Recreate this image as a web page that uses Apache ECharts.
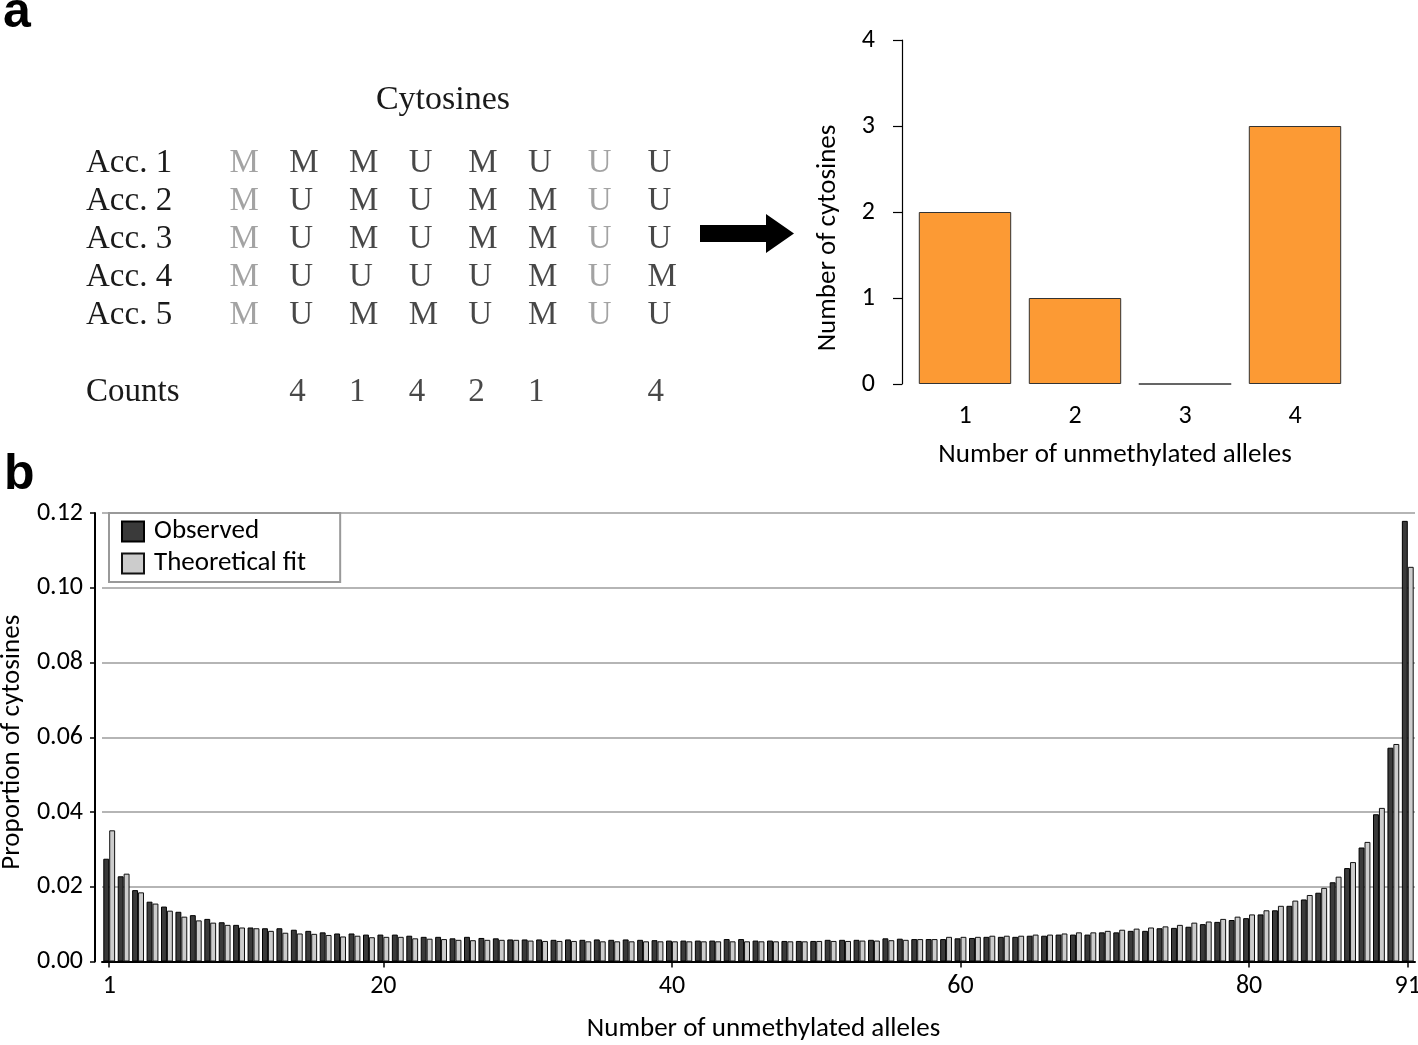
<!DOCTYPE html>
<html>
<head>
<meta charset="utf-8">
<script src="https://cdn.jsdelivr.net/npm/echarts@6/dist/echarts.min.js"></script>
<style>
html,body{margin:0;padding:0;background:#fff;}
#chart{width:1418px;height:1045px;}
</style>
</head>
<body>
<div id="chart"></div>
<script>
// ---------- Panel a: allele table ----------
const accessions = ['Acc. 1', 'Acc. 2', 'Acc. 3', 'Acc. 4', 'Acc. 5'];
const alleleRows = [
  ['M', 'M', 'M', 'U', 'M', 'U', 'U', 'U'],
  ['M', 'U', 'M', 'U', 'M', 'M', 'U', 'U'],
  ['M', 'U', 'M', 'U', 'M', 'M', 'U', 'U'],
  ['M', 'U', 'U', 'U', 'U', 'M', 'U', 'M'],
  ['M', 'U', 'M', 'M', 'U', 'M', 'U', 'U']
];
const countsRow = ['', '4', '1', '4', '2', '1', '', '4'];
const monomorphicCols = [0, 6];

// ---------- Panel a: histogram ----------
const histCategories = ['1', '2', '3', '4'];
const histValues = [2, 1, 0, 3];

// ---------- Panel b ----------
const alleleCategories = [];
for (let i = 1; i <= 91; i++) alleleCategories.push(String(i));
const tickLabels = ['1', '20', '40', '60', '80', '91'];
const observed = [
  0.0275, 0.0228, 0.0191, 0.0160, 0.0147, 0.0133, 0.0124, 0.0114, 0.0105, 0.0098,
  0.0091, 0.0089, 0.0089, 0.0085, 0.0082, 0.0078, 0.0075, 0.0075, 0.0072, 0.0072,
  0.0072, 0.0069, 0.0066, 0.0066, 0.0062, 0.0066, 0.0063, 0.0062, 0.0059, 0.0059,
  0.0059, 0.0058, 0.0059, 0.0058, 0.0059, 0.0058, 0.0059, 0.0058, 0.0057, 0.0056,
  0.0056, 0.0056, 0.0056, 0.0060, 0.0060, 0.0056, 0.0056, 0.0055, 0.0055, 0.0055,
  0.0058, 0.0058, 0.0058, 0.0058, 0.0062, 0.0061, 0.0060, 0.0060, 0.0060, 0.0062,
  0.0063, 0.0066, 0.0066, 0.0066, 0.0069, 0.0069, 0.0072, 0.0072, 0.0072, 0.0078,
  0.0078, 0.0082, 0.0082, 0.0089, 0.0090, 0.0093, 0.0100, 0.0106, 0.0111, 0.0116,
  0.0126, 0.0137, 0.0149, 0.0166, 0.0184, 0.0212, 0.0250, 0.0305, 0.0394, 0.0572,
  0.1179
];
const theoretical = [
  0.0351, 0.0235, 0.0185, 0.0155, 0.0136, 0.0120, 0.0110, 0.0104, 0.0098, 0.0091,
  0.0089, 0.0082, 0.0077, 0.0075, 0.0074, 0.0071, 0.0067, 0.0069, 0.0065, 0.0066,
  0.0066, 0.0062, 0.0061, 0.0060, 0.0058, 0.0057, 0.0058, 0.0058, 0.0058, 0.0056,
  0.0055, 0.0055, 0.0055, 0.0054, 0.0054, 0.0054, 0.0054, 0.0054, 0.0054, 0.0054,
  0.0054, 0.0054, 0.0054, 0.0054, 0.0054, 0.0054, 0.0054, 0.0054, 0.0054, 0.0055,
  0.0055, 0.0055, 0.0056, 0.0056, 0.0057, 0.0058, 0.0060, 0.0060, 0.0066, 0.0066,
  0.0066, 0.0069, 0.0069, 0.0069, 0.0072, 0.0072, 0.0075, 0.0078, 0.0078, 0.0082,
  0.0085, 0.0088, 0.0091, 0.0094, 0.0098, 0.0104, 0.0107, 0.0114, 0.0120, 0.0126,
  0.0137, 0.0149, 0.0163, 0.0178, 0.0197, 0.0227, 0.0266, 0.0320, 0.0411, 0.0582,
  0.1056
];

const SANS = 'Carlito, Lato, sans-serif';
const SERIF = 'Liberation Serif, serif';

const tableData = [];
alleleRows.forEach((row, r) => {
  row.forEach((ch, c) => {
    tableData.push({
      value: [c, r, ch],
      label: { color: monomorphicCols.includes(c) ? '#8c8c8c' : '#1a1a1a' }
    });
  });
});
countsRow.forEach((ch, c) => {
  if (ch) tableData.push({ value: [c, 6, ch], label: { color: '#1a1a1a' } });
});
const rowLabels = accessions.concat(['', 'Counts']);
const tickIdx = tickLabels.map(t => alleleCategories.indexOf(t));
const showTick = (idx) => tickIdx.includes(idx);

const chart = echarts.init(document.getElementById('chart'), null, { renderer: 'canvas' });
chart.setOption({
  animation: false,
  backgroundColor: '#fff',
  grid: [
    { left: 229, width: 418, top: 163, height: 229, containLabel: false, outerBoundsMode: 'none' },
    { left: 910, width: 440, top: 40, height: 344, containLabel: false, outerBoundsMode: 'none' },
    { left: 102, width: 1313, top: 513, height: 448.5, containLabel: false, outerBoundsMode: 'none' }
  ],
  xAxis: [
    {
      gridIndex: 0, type: 'value', min: 0, max: 7, position: 'top',
      name: 'Cytosines', nameLocation: 'middle', nameGap: 46,
      nameTextStyle: { fontFamily: SERIF, fontSize: 34, color: '#1a1a1a', padding: [0, 0, 0, 10] },
      axisLine: { show: false }, axisTick: { show: false }, axisLabel: { show: false }, splitLine: { show: false }
    },
    {
      gridIndex: 1, type: 'category', data: histCategories,
      axisLine: { show: false }, axisTick: { show: false },
      axisLabel: { margin: 19, fontFamily: SANS, fontSize: 26, color: '#000' },
      name: 'Number of unmethylated alleles', nameLocation: 'middle', nameGap: 58,
      nameTextStyle: { fontFamily: SANS, fontSize: 27, color: '#000', padding: [0, 30, 0, 0] }
    },
    {
      gridIndex: 2, type: 'category', data: alleleCategories,
      axisLine: { show: true, lineStyle: { color: '#000', width: 2 } },
      axisTick: { show: true, alignWithLabel: true, interval: showTick, length: 6, lineStyle: { color: '#000', width: 1.5 } },
      axisLabel: { interval: showTick, margin: 12, fontFamily: SANS, fontSize: 26, color: '#000' },
      name: 'Number of unmethylated alleles', nameLocation: 'middle', nameGap: 54,
      nameTextStyle: { fontFamily: SANS, fontSize: 27, color: '#000', padding: [0, 0, 0, 10] }
    }
  ],
  yAxis: [
    {
      gridIndex: 0, type: 'category', data: rowLabels, inverse: true, boundaryGap: false,
      axisLine: { show: false }, axisTick: { show: false }, splitLine: { show: false },
      axisLabel: { interval: 0, margin: 143, align: 'left', fontFamily: SERIF, fontSize: 33, color: '#1a1a1a' }
    },
    {
      gridIndex: 1, type: 'value', min: 0, max: 4, interval: 1, offset: 8,
      axisLine: { show: true, lineStyle: { color: '#000', width: 1.2 } },
      axisTick: { show: true, length: 9, lineStyle: { color: '#000', width: 1.2 } },
      axisLabel: { margin: 27, fontFamily: SANS, fontSize: 26, color: '#000' },
      splitLine: { show: false },
      name: 'Number of cytosines', nameLocation: 'middle', nameGap: 60,
      nameTextStyle: { fontFamily: SANS, fontSize: 27, color: '#000', padding: [0, 52, 0, 0] }
    },
    {
      gridIndex: 2, type: 'value', min: 0, max: 0.12, interval: 0.02, offset: 7,
      axisLine: { show: true, lineStyle: { color: '#000', width: 2 } },
      axisTick: { show: true, length: 5, lineStyle: { color: '#000', width: 1.5 } },
      axisLabel: { margin: 12, fontFamily: SANS, fontSize: 26, color: '#000', formatter: v => v.toFixed(2) },
      splitLine: { show: true, lineStyle: { color: '#b5b5b5', width: 2 } },
      name: 'Proportion of cytosines', nameLocation: 'middle', nameGap: 68,
      nameTextStyle: { fontFamily: SANS, fontSize: 27, color: '#000', padding: [0, 10, 0, 0] }
    }
  ],
  legend: {
    data: ['Observed', 'Theoretical fit'],
    orient: 'vertical', left: 109, top: 513,
    itemWidth: 22, itemHeight: 20, itemGap: 5,
    padding: [5, 34, 5, 12],
    backgroundColor: '#fff', borderColor: '#999', borderWidth: 2,
    icon: 'rect',
    textStyle: { fontFamily: SANS, fontSize: 27, color: '#000', padding: [0, 0, 0, 5] }
  },
  series: [
    {
      type: 'scatter', xAxisIndex: 0, yAxisIndex: 0, data: tableData,
      symbolSize: 1, itemStyle: { color: 'rgba(0,0,0,0)' }, silent: true,
      label: { show: true, position: 'right', distance: 0, formatter: p => p.value[2], fontFamily: SERIF, fontSize: 33 }
    },
    {
      type: 'bar', xAxisIndex: 1, yAxisIndex: 1, data: histValues,
      barCategoryGap: '16%',
      itemStyle: { color: '#FC9A34', borderColor: '#333', borderWidth: 1 }
    },
    {
      name: 'Observed', type: 'bar', xAxisIndex: 2, yAxisIndex: 2, data: observed,
      barGap: '0%', barCategoryGap: '18%',
      itemStyle: { color: '#3a3a3a', borderColor: '#000', borderWidth: 1 }
    },
    {
      name: 'Theoretical fit', type: 'bar', xAxisIndex: 2, yAxisIndex: 2, data: theoretical,
      barGap: '0%', barCategoryGap: '18%',
      itemStyle: { color: '#cccccc', borderColor: '#111', borderWidth: 1 }
    }
  ],
  graphic: [
    { type: 'text', left: 3, top: -12, style: { text: 'a', font: 'bold 50px "Liberation Sans", Arial, sans-serif', fill: '#000' } },
    { type: 'text', left: 4, top: 450, style: { text: 'b', font: 'bold 50px "Liberation Sans", Arial, sans-serif', fill: '#000' } },
    {
      type: 'polygon',
      shape: { points: [[700, 225], [766, 225], [766, 214], [794, 233.5], [766, 253], [766, 242], [700, 242]] },
      style: { fill: '#000' }
    }
  ]
});
</script>
</body>
</html>
